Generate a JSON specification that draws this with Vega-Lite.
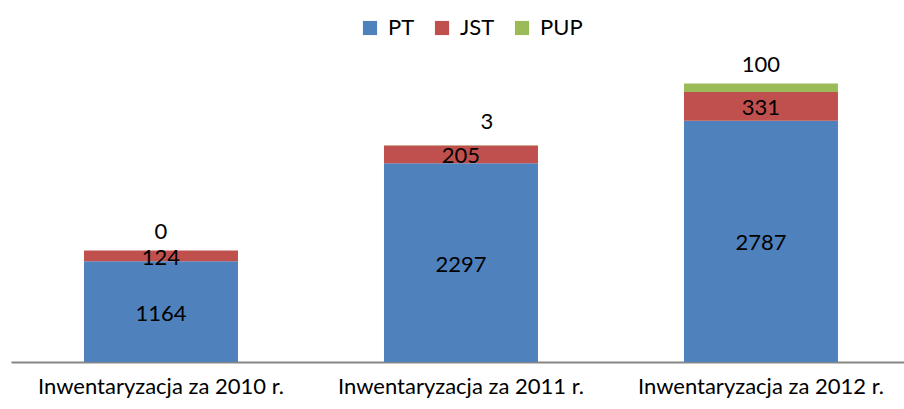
{
  "$schema": "https://vega.github.io/schema/vega-lite/v6.json",
  "autosize": {"type": "none"},
  "width": 893,
  "height": 303,
  "padding": {"left": 11, "top": 59, "right": 0, "bottom": 47},
  "background": "white",
  "config": {
    "view": {"stroke": null},
    "font": "Lato",
    "text": {"font": "Lato"}
  },
  "data": {
    "values": [
      {"cat": "Inwentaryzacja za 2010 r.", "series": "PT", "k": 1, "value": 1164},
      {"cat": "Inwentaryzacja za 2010 r.", "series": "JST", "k": 2, "value": 124},
      {"cat": "Inwentaryzacja za 2010 r.", "series": "PUP", "k": 3, "value": 0},
      {"cat": "Inwentaryzacja za 2011 r.", "series": "PT", "k": 1, "value": 2297},
      {"cat": "Inwentaryzacja za 2011 r.", "series": "JST", "k": 2, "value": 205},
      {"cat": "Inwentaryzacja za 2011 r.", "series": "PUP", "k": 3, "value": 3},
      {"cat": "Inwentaryzacja za 2012 r.", "series": "PT", "k": 1, "value": 2787},
      {"cat": "Inwentaryzacja za 2012 r.", "series": "JST", "k": 2, "value": 331},
      {"cat": "Inwentaryzacja za 2012 r.", "series": "PUP", "k": 3, "value": 100}
    ]
  },
  "transform": [
    {"stack": "value", "groupby": ["cat"], "sort": [{"field": "k", "order": "ascending"}], "as": ["y0", "y1"]},
    {"calculate": "(datum.y0 + datum.y1) / 2", "as": "ymid"}
  ],
  "encoding": {
    "x": {
      "field": "cat", "type": "nominal", "title": null, "sort": null,
      "scale": {"paddingInner": 0.4867, "paddingOuter": 0.2317, "align": 0.525},
      "axis": {
        "labelAngle": 0, "ticks": false, "domainColor": "#868686", "domainWidth": 2,
        "labelFont": "Lato", "labelFontSize": 22, "labelColor": "#000000",
        "labelPadding": 14, "labelBaseline": "top", "grid": false,
        "labelLimit": 0, "labelOverlap": false, "labelBound": false
      }
    }
  },
  "layer": [
    {
      "mark": {"type": "bar"},
      "encoding": {
        "y": {"field": "y1", "type": "quantitative", "scale": {"domain": [0, 3500], "nice": false}, "axis": null},
        "y2": {"field": "y0"},
        "color": {
          "field": "series", "type": "nominal",
          "scale": {"domain": ["PT", "JST", "PUP"], "range": ["#4F81BD", "#C0504D", "#9BBB59"]},
          "legend": {
            "title": null, "orient": "none", "direction": "horizontal",
            "legendX": 348, "legendY": -42, "padding": 0,
            "symbolType": "square", "symbolSize": 200, "symbolStrokeWidth": 0,
            "labelFont": "Lato", "labelFontSize": 22, "labelColor": "#000000",
            "labelOffset": 7, "columnPadding": 16
          }
        }
      }
    },
    {
      "transform": [{"filter": "datum.series != 'PUP'"}],
      "mark": {"type": "text", "fontSize": 22, "color": "#000000", "baseline": "middle", "dy": 2},
      "encoding": {
        "y": {"field": "ymid", "type": "quantitative", "scale": {"domain": [0, 3500], "nice": false}},
        "text": {"field": "value", "type": "quantitative", "format": "d"}
      }
    },
    {
      "transform": [{"filter": "datum.series == 'PUP' && datum.cat != 'Inwentaryzacja za 2011 r.'"}],
      "mark": {"type": "text", "fontSize": 22, "color": "#000000", "baseline": "middle", "dy": -18},
      "encoding": {
        "y": {"field": "y1", "type": "quantitative", "scale": {"domain": [0, 3500], "nice": false}},
        "text": {"field": "value", "type": "quantitative", "format": "d"}
      }
    },
    {
      "transform": [{"filter": "datum.series == 'PUP' && datum.cat == 'Inwentaryzacja za 2011 r.'"}],
      "mark": {"type": "text", "fontSize": 22, "color": "#000000", "baseline": "middle", "dy": -23, "dx": 26},
      "encoding": {
        "y": {"field": "y1", "type": "quantitative", "scale": {"domain": [0, 3500], "nice": false}},
        "text": {"field": "value", "type": "quantitative", "format": "d"}
      }
    }
  ]
}
